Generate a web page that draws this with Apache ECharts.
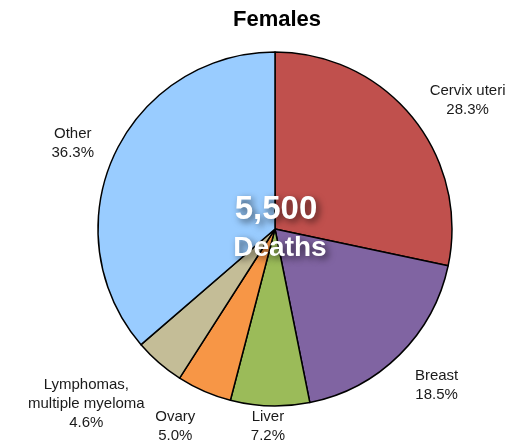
<!DOCTYPE html>
<html>
<head>
<meta charset="utf-8">
<script src="https://cdn.jsdelivr.net/npm/echarts@6/dist/echarts.min.js"></script>
<style>html,body{margin:0;padding:0;background:#fff}#c{width:520px;height:448px}</style>
</head>
<body>
<div id="c"></div>
<script>
var categories = ['Cervix uteri', 'Breast', 'Liver', 'Ovary', 'Lymphomas, multiple myeloma', 'Other'];
var shares = [28.3, 18.5, 7.2, 5.0, 4.6, 36.3];
var colors = ['#C0504D', '#8064A2', '#9BBB59', '#F79646', '#C4BD97', '#99CCFF'];
var totalDeaths = '5,500';
var chartTitle = 'Females';

var CX = 275, CY = 229, R = 177, D = 199;
var sum = shares.reduce(function (a, b) { return a + b; }, 0);
var mids = [];
(function () {
  var acc = 0;
  for (var i = 0; i < shares.length; i++) {
    mids.push((acc + shares[i] / 2) / sum * 2 * Math.PI);
    acc += shares[i];
  }
})();
function clamp1(v) { return Math.max(-1, Math.min(1, v)); }

var shadow = { textShadowColor: 'rgba(0,0,0,0.6)', textShadowBlur: 7, textShadowOffsetX: 3, textShadowOffsetY: 3 };
var chart = echarts.init(document.getElementById('c'));
chart.setOption({
  animation: false,
  color: colors,
  graphic: [
    { type: 'text', x: 277, y: 20, style: { text: chartTitle, font: 'bold 22px "Liberation Sans", Arial, sans-serif', fill: '#000', align: 'center', verticalAlign: 'middle' } },
    { type: 'text', x: 276, y: 210, z: 100, style: Object.assign({ text: totalDeaths, font: 'bold 33px "Liberation Sans", Arial, sans-serif', fill: '#fff', align: 'center', verticalAlign: 'middle' }, shadow) },
    { type: 'text', x: 280, y: 248, z: 100, style: Object.assign({ text: 'Deaths', font: 'bold 28px "Liberation Sans", Arial, sans-serif', fill: '#fff', align: 'center', verticalAlign: 'middle' }, shadow) }
  ],
  series: [{
    type: 'pie',
    center: [CX, CY],
    radius: [0, R],
    startAngle: 90,
    clockwise: true,
    avoidLabelOverlap: false,
    itemStyle: { borderColor: '#000', borderWidth: 1.5 },
    emphasis: { disabled: true },
    label: {
      show: true,
      position: 'outside',
      fontFamily: '"Liberation Sans", Arial, sans-serif',
      fontSize: 15,
      lineHeight: 19,
      color: '#1a1a1a',
      align: 'center',
      formatter: function (p) {
        return p.name.replace(', ', ',\n') + '\n' + p.value.toFixed(1) + '%';
      }
    },
    labelLine: { show: false },
    labelLayout: function (p) {
      var a = mids[p.dataIndex];
      var sx = Math.sin(a), cy = -Math.cos(a);
      var hw = p.labelRect.width / 2, hh = p.labelRect.height / 2 - 10;
      var x = CX + sx * D + clamp1(sx * 3) * hw;
      var y = CY + cy * D + clamp1(cy * 3) * hh + 6;
      var fullH = p.labelRect.height / 2;
      if (y + fullH > 445) y = 445 - fullH;
      if (x - hw < 4) x = 4 + hw;
      if (x + hw > 516) x = 516 - hw;
      return { x: x, y: y, align: 'center', verticalAlign: 'middle' };
    },
    data: categories.map(function (c, i) { return { name: c, value: shares[i] }; })
  }]
});
</script>
</body>
</html>
